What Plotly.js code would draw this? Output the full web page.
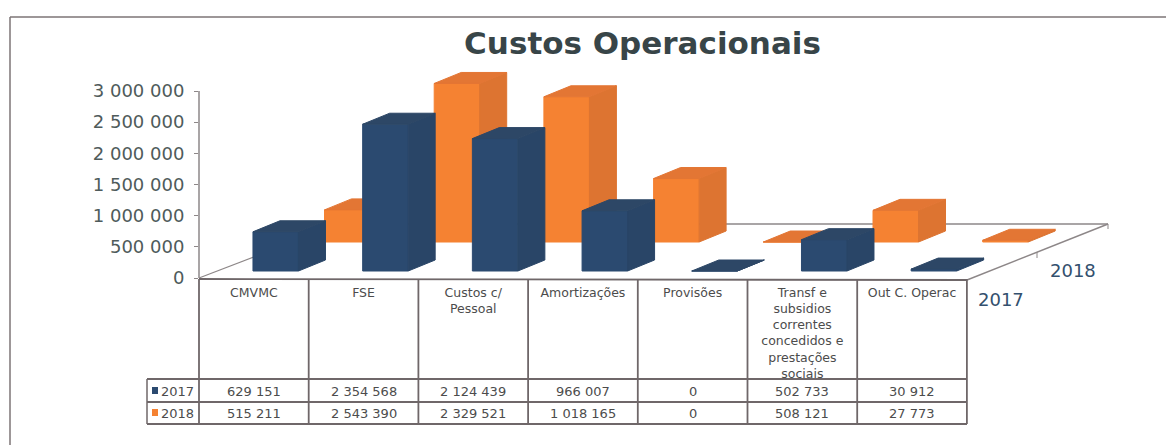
<!DOCTYPE html>
<html><head><meta charset="utf-8">
<script src="https://cdn.plot.ly/plotly-3.0.1.min.js"></script>
<style>html,body{margin:0;padding:0;background:#fff}#c{width:1166px;height:445px}</style>
</head><body><div id="c"></div>
<script>
const categories = ["CMVMC","FSE","Custos c/<br>Pessoal","Amortizações","Provisões","Transf e<br>subsidios<br>correntes<br>concedidos e<br>prestações<br>sociais","Out C. Operac"];
const series2017 = [629151,2354568,2124439,966007,0,502733,30912];
const series2018 = [515211,2543390,2329521,1018165,0,508121,27773];
const seriesNames = ["2017","2018"];
const yTicks = [0,500000,1000000,1500000,2000000,2500000,3000000];

const W=1166,H=445,L=199,B=278,SLOT=109.7,PXV=187/3000000;
const PW=947,PH=218;
const px=v=>v/PXV;              // pixels -> value units
const xp=x=>(x-L)/PW, yp=y=>(B-y)/PH; // page pixels -> paper
const BW=45.5/SLOT, SDX=27/SLOT, SDY=px(11);
const fmt=n=>String(n).replace(/\B(?=(\d{3})+$)/g,' ');
const idx=categories.map((_,i)=>i);

function row(vals,left,rise,cf,cs,ct,name,xa,ya){
  const xs=idx.map(i=>i+left+BW/2), base=idx.map(()=>px(rise));
  const side={x:[],y:[]},top={x:[],y:[]};
  vals.forEach((v,i)=>{
    const x0=i+left,x1=x0+BW,b=px(rise),t=b+v;
    side.x.push(x1,x1+SDX,x1+SDX,x1,x1,null); side.y.push(b,b+SDY,t+SDY,t,b,null);
    top.x.push(x0,x1,x1+SDX,x0+SDX,x0,null); top.y.push(t,t,t+SDY,t+SDY,t,null);
  });
  const poly=(p,c,n)=>({type:'scatter',mode:'lines',x:p.x,y:p.y,xaxis:xa,yaxis:ya,fill:'toself',fillcolor:c,line:{width:1,color:c},hoverinfo:'skip',showlegend:false,name:n});
  return [
    {type:'bar',name,x:xs,y:vals,base,width:BW,xaxis:xa,yaxis:ya,marker:{color:cf,line:{width:1,color:cf}},showlegend:false},
    poly(side,cs,name+' lado'),poly(top,ct,name+' topo')
  ];
}
const NAVY=['#2b4a70','#294567','#2d4766'],ORG=['#f58232','#dd7431','#e37634'];
const data=[...row(series2018,1.144,36,...ORG,seriesNames[1],'x','y'),
            ...row(series2017,0.492,7,...NAVY,seriesNames[0],'x','y2')];

const GRID='#8d8788',TB='#6f6769',TXT='#4c4c4c';
const shapes=[],ann=[];
const pline=(x0,y0,x1,y1,c,w,layer)=>shapes.push({type:'line',xref:'paper',yref:'paper',x0:xp(x0),y0:yp(y0),x1:xp(x1),y1:yp(y1),line:{color:c,width:w},layer:layer||'above'});
// frame of the scanned box
pline(10,17,1166,17,'#7d7576',1.5); pline(10,17,10,445,'#7d7576',1.5);
// y axis and floor
pline(199,91,199,278,GRID,1.5,'below');
pline(199,278,340,224,GRID,1.2,'below');
pline(340,224,1108,224,GRID,1.5,'below');
pline(967,280,1108,224,GRID,1.5,'below');
pline(1037,252,1037,258,GRID,1,'below');
pline(1108,224,1108,229,GRID,1,'below');
// table grid
const colX=[0,1,2,3,4,5,6,7].map(i=>L+SLOT*i);
colX.forEach(x=>pline(x,279,x,424,TB,1.8));
pline(199,279,967,280,TB,1.8);
pline(147,379,967,379,TB,1.8);pline(147,402,967,402,TB,1.8);pline(147,424,967,424,TB,1.8);
pline(147,379,147,424,TB,1.5);
// table text
const note=(t,x,y,s,c,extra)=>ann.push(Object.assign({text:t,xref:'paper',yref:'paper',x:xp(x),y:yp(y),showarrow:false,xanchor:'center',yanchor:'middle',font:{family:'DejaVu Sans',size:s,color:c}},extra||{}));
[series2017,series2018].forEach((vals,r)=>{
  const yy=[391,413][r];
  vals.forEach((v,i)=>note(fmt(v),L+SLOT*(i+.5),yy,13,TXT));
  note(seriesNames[r],177,yy,13,TXT);
  shapes.push({type:'rect',xref:'paper',yref:'paper',x0:xp(152),x1:xp(158),y0:yp(yy-4),y1:yp(yy+3),fillcolor:r?ORG[0]:NAVY[0],line:{width:0}});
});
// depth axis labels
note(seriesNames[1],1073,270,18,'#33506e');
note(seriesNames[0],1001,299,18,'#33506e');

Plotly.newPlot('c',data,{
  width:W,height:H,paper_bgcolor:'#fff',plot_bgcolor:'rgba(0,0,0,0)',
  margin:{l:L,r:W-L-PW,t:H-(H-B)-PH,b:H-B,pad:0},
  barmode:'overlay',separators:', ',showlegend:false,
  title:{text:'<b>Custos Operacionais</b>',x:(642.5)/W,xanchor:'center',y:(H-43)/H,yanchor:'middle',font:{family:'DejaVu Sans',size:31,color:'#384548'}},
  xaxis:{range:[0,PW/SLOT],tickmode:'array',tickvals:idx.map(i=>i+.5),ticktext:categories,ticks:'',showgrid:false,zeroline:false,showline:false,
    ticklabelstandoff:5,tickfont:{family:'DejaVu Sans',size:12.5,color:TXT},tickangle:0},
  yaxis:{range:[0,px(PH)],tickmode:'array',tickvals:yTicks,tickformat:',d',ticks:'outside',ticklen:4,tickcolor:GRID,showgrid:false,zeroline:false,showline:false,
    ticklabelstandoff:6,tickfont:{family:'DejaVu Sans',size:18,color:'#4f5b5b'}},
  yaxis2:{range:[0,px(PH)],overlaying:'y',visible:false},
  shapes,annotations:ann
},{displayModeBar:false,staticPlot:true});
</script></body></html>
